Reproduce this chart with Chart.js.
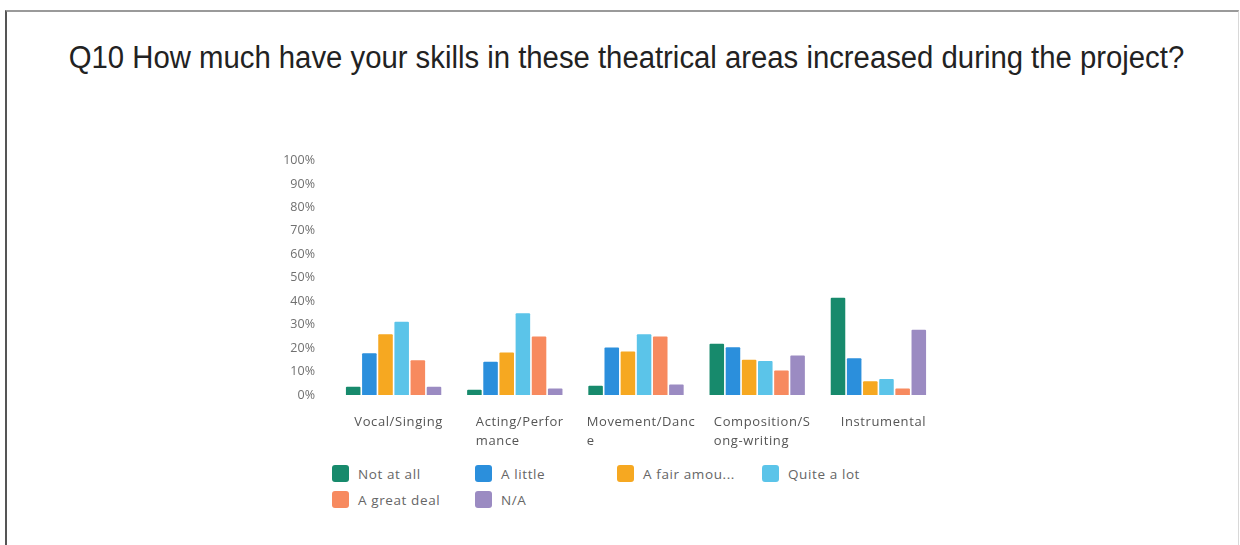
<!DOCTYPE html>
<html>
<head>
<meta charset="utf-8">
<script src="https://cdn.jsdelivr.net/npm/chart.js@4.4.1/dist/chart.umd.min.js"></script>
<style>
  body { margin: 0; background: #fff; width: 1240px; height: 545px; overflow: hidden; position: relative; }
  #frame { position: absolute; left: 5px; top: 10px; width: 1231px; height: 560px;
           border-left: 2px solid #555; border-top: 2px solid #9a9a9a; border-right: 1px solid #d8d8d8; }
  #title { position: absolute; left: 0; top: 40px; width: 1253px; text-align: center;
           font-family: "Liberation Sans", Arial, sans-serif; font-size: 31px; color: #222;
           transform: scaleX(0.945); transform-origin: 626.5px 0; }
  #box { position: absolute; left: 250px; top: 135px; width: 700px; height: 320px; }
  #legend { position: absolute; left: 332px; top: 465px; display: grid;
            grid-template-columns: 143px 142px 145px 145px; row-gap: 9px;
            font-family: "Open Sans", sans-serif; font-size: 13.5px; letter-spacing: 0.6px; color: #666; }
  .item { display: flex; align-items: center; height: 17px; white-space: nowrap; }
  .sw { width: 17px; height: 17px; border-radius: 3px; margin-right: 9px; }
</style>
</head>
<body>
<div id="frame"></div>
<div id="title">Q10 How much have your skills in these theatrical areas increased during the project?</div>
<div id="box"><canvas id="skillsChart"></canvas></div>
<div id="legend"></div>
<script>
var areas = [["Vocal/Singing"], ["Acting/Perfor", "mance"], ["Movement/Danc", "e"], ["Composition/S", "ong-writing"], ["Instrumental"]];
var yTicks = ["0%", "10%", "20%", "30%", "40%", "50%", "60%", "70%", "80%", "90%", "100%"];

var seriesNames = ["Not at all", "A little", "A fair amou...", "Quite a lot", "A great deal", "N/A"];
var notAtAll  = [3.5, 2.2, 3.9, 21.9, 41.5];
var aLittle   = [17.8, 14.2, 20.3, 20.4, 15.7];
var aFair     = [25.9, 18.1, 18.6, 15.0, 5.9];
var quiteALot = [31.2, 34.9, 25.9, 14.5, 6.8];
var greatDeal = [14.8, 25.0, 25.0, 10.4, 2.8];
var notApp    = [3.5, 2.8, 4.5, 16.8, 27.8];

var colors = ["#178a6c", "#2b8fdc", "#f6a821", "#5bc4e9", "#f78a5f", "#9b8bc2"];
var values = [notAtAll, aLittle, aFair, quiteALot, greatDeal, notApp];

var datasets = [];
for (var i in values) {
  datasets.push({
    label: seriesNames[i],
    data: values[i],
    backgroundColor: colors[i],
    borderRadius: 1,
    barPercentage: 0.9,
    categoryPercentage: 0.8
  });
}

// category labels drawn left-aligned inside their block, like the original
var areaLabels = {
  id: "areaLabels",
  afterDraw: function (chart) {
    var ctx = chart.ctx;
    var xs = chart.scales.x;
    ctx.save();
    ctx.font = "13px 'Open Sans', sans-serif";
    ctx.letterSpacing = "0.6px";
    ctx.fillStyle = "#555";
    ctx.textAlign = "left";
    ctx.textBaseline = "middle";
    for (var i = 0; i < areas.length; i++) {
      var w = 0;
      for (var j = 0; j < areas[i].length; j++) w = Math.max(w, ctx.measureText(areas[i][j]).width);
      var left = xs.getPixelForTick(i) - w / 2 + 5;
      for (var j = 0; j < areas[i].length; j++) {
        ctx.fillText(areas[i][j], left, xs.top + 27 + j * 19);
      }
    }
    ctx.restore();
  }
};

var ctx = document.getElementById("skillsChart");
var chart = new Chart(ctx, {
  type: "bar",
  data: { labels: areas.map(function (a) { return a.join(""); }), datasets: datasets },
  options: {
    responsive: true,
    maintainAspectRatio: false,
    animation: false,
    layout: { padding: { top: 0, right: 11, left: 0, bottom: 0 } },
    plugins: { legend: { display: false }, tooltip: { enabled: false } },
    scales: {
      x: {
        grid: { display: false, drawTicks: false },
        border: { display: false },
        ticks: { display: false },
        afterFit: function (s) { s.height = 60; }
      },
      y: {
        min: 0,
        max: 100,
        grid: { display: false, drawTicks: false },
        border: { display: false },
        ticks: {
          stepSize: 10,
          padding: 18,
          color: "#707070",
          font: { family: "Open Sans", size: 12.5 },
          callback: function (v) { return yTicks[v / 10]; }
        },
        afterFit: function (s) { s.width = 83; }
      }
    }
  },
  plugins: [areaLabels]
});

var legend = document.getElementById("legend");
for (var i in seriesNames) {
  var it = document.createElement("div");
  it.className = "item";
  it.innerHTML = '<span class="sw" style="background:' + colors[i] + '"></span>' + seriesNames[i];
  legend.appendChild(it);
}
</script>
</body>
</html>
